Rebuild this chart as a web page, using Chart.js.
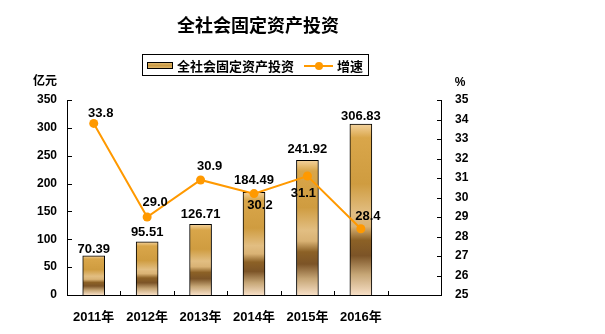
<!DOCTYPE html>
<html><head><meta charset="utf-8">
<script src="https://cdn.jsdelivr.net/npm/chart.js@4.4.0/dist/chart.umd.min.js"></script>
<style>html,body{margin:0;padding:0;background:#fff;}#wrap{width:605px;height:334px;}</style>
</head><body><div id="wrap"><canvas id="c" width="605" height="334"></canvas></div>
<script>
// ---- data ----
const categories = ['2011年','2012年','2013年','2014年','2015年','2016年',''];
const investment = [70.39, 95.51, 126.71, 184.49, 241.92, 306.83];
const growth = [33.8, 29.0, 30.9, 30.2, 31.1, 28.4];
const leftTicks = [0, 50, 100, 150, 200, 250, 300, 350];
const rightTicks = [25, 26, 27, 28, 29, 30, 31, 32, 33, 34, 35];
const chartTitle = '全社会固定资产投资';
const seriesNames = ['全社会固定资产投资', '增速'];
const axisUnits = ['亿元', '%'];

// ---- label placement (style, not data) ----
const barLabelGap = [3, 5.5, 6, 8, 7.5, 4];
const lineLabelOffset = [[7,-10],[8,-15],[9,-14],[6,12],[-4,17],[7,-12]];

const NUM_FONT = "'Liberation Sans','Noto Sans CJK SC',sans-serif";
const CJK_FONT = "'Noto Sans CJK SC','Liberation Sans',sans-serif";
const ORANGE = '#FF9900';

function barGradient(c, top, base) {
  const g = c.createLinearGradient(0, top, 0, base);
  g.addColorStop(0, '#F4D39E');
  g.addColorStop(0.08, '#D9A64A');
  g.addColorStop(0.35, '#CF9C40');
  g.addColorStop(0.52, '#E2BE82');
  g.addColorStop(0.6, '#D9B274');
  g.addColorStop(0.68, '#8C6126');
  g.addColorStop(0.77, '#7C5427');
  g.addColorStop(0.88, '#C6A676');
  g.addColorStop(1, '#F7DFC6');
  return g;
}

const decorPlugin = {
  id: 'decor',
  afterDraw(chart) {
    const c = chart.ctx, a = chart.chartArea;
    const ys = chart.scales.y, yr = chart.scales.y1, xs = chart.scales.x;
    c.save();
    c.strokeStyle = '#000'; c.lineWidth = 1;
    // tick marks (inward)
    c.beginPath();
    leftTicks.forEach(v => { const p = Math.round(ys.getPixelForValue(v)) + 0.5; c.moveTo(a.left, p); c.lineTo(a.left + 5, p); });
    rightTicks.forEach(v => { const p = Math.round(yr.getPixelForValue(v)) + 0.5; c.moveTo(a.right - 4, p); c.lineTo(a.right, p); });
    for (let i = 0; i < categories.length - 1; i++) {
      const p = Math.round((xs.getPixelForValue(i) + xs.getPixelForValue(i + 1)) / 2) + 0.5;
      c.moveTo(p, a.bottom); c.lineTo(p, a.bottom - 4);
    }
    c.stroke();

    // title
    c.fillStyle = '#000';
    c.textAlign = 'center'; c.textBaseline = 'middle';
    c.font = 'bold 18px ' + CJK_FONT;
    c.fillText(chartTitle, 258, 25);

    // axis units
    c.font = 'bold 12px ' + CJK_FONT;
    c.fillText(axisUnits[0], 45, 80);
    c.font = 'bold 12px ' + NUM_FONT;
    c.fillText(axisUnits[1], 460, 83);

    // legend
    c.strokeRect(142.5, 54.5, 226, 21);
    const sg = c.createLinearGradient(0, 62, 0, 69);
    sg.addColorStop(0, '#E8C27A'); sg.addColorStop(0.5, '#C99A45'); sg.addColorStop(1, '#E8C27A');
    c.fillStyle = sg; c.fillRect(147, 62, 26, 7);
    c.strokeRect(147.5, 62.5, 25, 6);
    c.fillStyle = '#000';
    c.font = 'bold 13px ' + CJK_FONT;
    c.textAlign = 'left';
    c.fillText(seriesNames[0], 177, 66);
    c.strokeStyle = ORANGE; c.lineWidth = 2;
    c.beginPath(); c.moveTo(304, 66); c.lineTo(333, 66); c.stroke();
    c.fillStyle = ORANGE; c.beginPath(); c.arc(319, 66, 4, 0, Math.PI * 2); c.fill();
    c.fillStyle = '#000';
    c.fillText(seriesNames[1], 337, 66);

    // value labels
    c.textAlign = 'center';
    c.font = 'bold 13px ' + NUM_FONT;
    const bm = chart.getDatasetMeta(1);
    bm.data.forEach((el, i) => {
      c.textBaseline = 'alphabetic';
      c.fillText(investment[i].toFixed(2), el.x, el.y - barLabelGap[i]);
    });
    const lm = chart.getDatasetMeta(0);
    lm.data.forEach((el, i) => {
      c.textBaseline = 'middle';
      c.fillText(growth[i].toFixed(1), el.x + lineLabelOffset[i][0], el.y + lineLabelOffset[i][1]);
    });
    c.restore();
  }
};

const tickFont = { family: NUM_FONT, weight: 'bold', size: 12 };

new Chart(document.getElementById('c'), {
  data: {
    labels: categories,
    datasets: [
      {
        type: 'line', label: seriesNames[1], data: growth, yAxisID: 'y1', order: 0,
        borderColor: ORANGE, backgroundColor: ORANGE, borderWidth: 2,
        pointRadius: 4.5, pointBackgroundColor: ORANGE, pointBorderWidth: 0, tension: 0
      },
      {
        type: 'bar', label: seriesNames[0], data: investment, yAxisID: 'y', order: 1,
        borderColor: '#000', borderWidth: 1, barThickness: 22,
        backgroundColor: (ctx) => {
          const ch = ctx.chart;
          if (!ch.chartArea || ctx.type !== 'data' || !ch.scales.y) return '#C99A45';
          const top = ch.scales.y.getPixelForValue(ctx.raw);
          const base = ch.scales.y.getPixelForValue(0);
          return barGradient(ch.ctx, top, base);
        }
      }
    ]
  },
  options: {
    responsive: false, animation: false, events: [], devicePixelRatio: 1,
    layout: { padding: { top: 100, left: 0, right: 124, bottom: 0 } },
    plugins: { legend: { display: false }, title: { display: false }, tooltip: { enabled: false } },
    scales: {
      x: {
        type: 'category', offset: true,
        grid: { display: false },
        border: { display: true, color: '#000', width: 1 },
        ticks: { color: '#000', font: { family: NUM_FONT, weight: 'bold', size: 13 }, padding: 7, maxRotation: 0, autoSkip: false },
        afterFit: s => { s.height = 39; }
      },
      y: {
        position: 'left', min: 0, max: 350,
        grid: { display: false, drawTicks: false },
        border: { display: true, color: '#000', width: 1 },
        ticks: { color: '#000', font: tickFont, padding: 10 },
        afterBuildTicks: s => { s.ticks = leftTicks.map(v => ({ value: v })); },
        afterFit: s => { s.width = 67; }
      },
      y1: {
        position: 'right', min: 25, max: 35,
        grid: { display: false, drawTicks: false },
        border: { display: true, color: '#000', width: 1 },
        ticks: { color: '#000', font: tickFont, padding: 14 },
        afterBuildTicks: s => { s.ticks = rightTicks.map(v => ({ value: v })); },
        afterFit: s => { s.width = 40; }
      }
    }
  },
  plugins: [decorPlugin, {
    id: 'bg',
    beforeDraw(chart) { const c = chart.ctx; c.save(); c.fillStyle = '#fff'; c.fillRect(0, 0, chart.width, chart.height); c.restore(); }
  }]
});
</script>
</body></html>
